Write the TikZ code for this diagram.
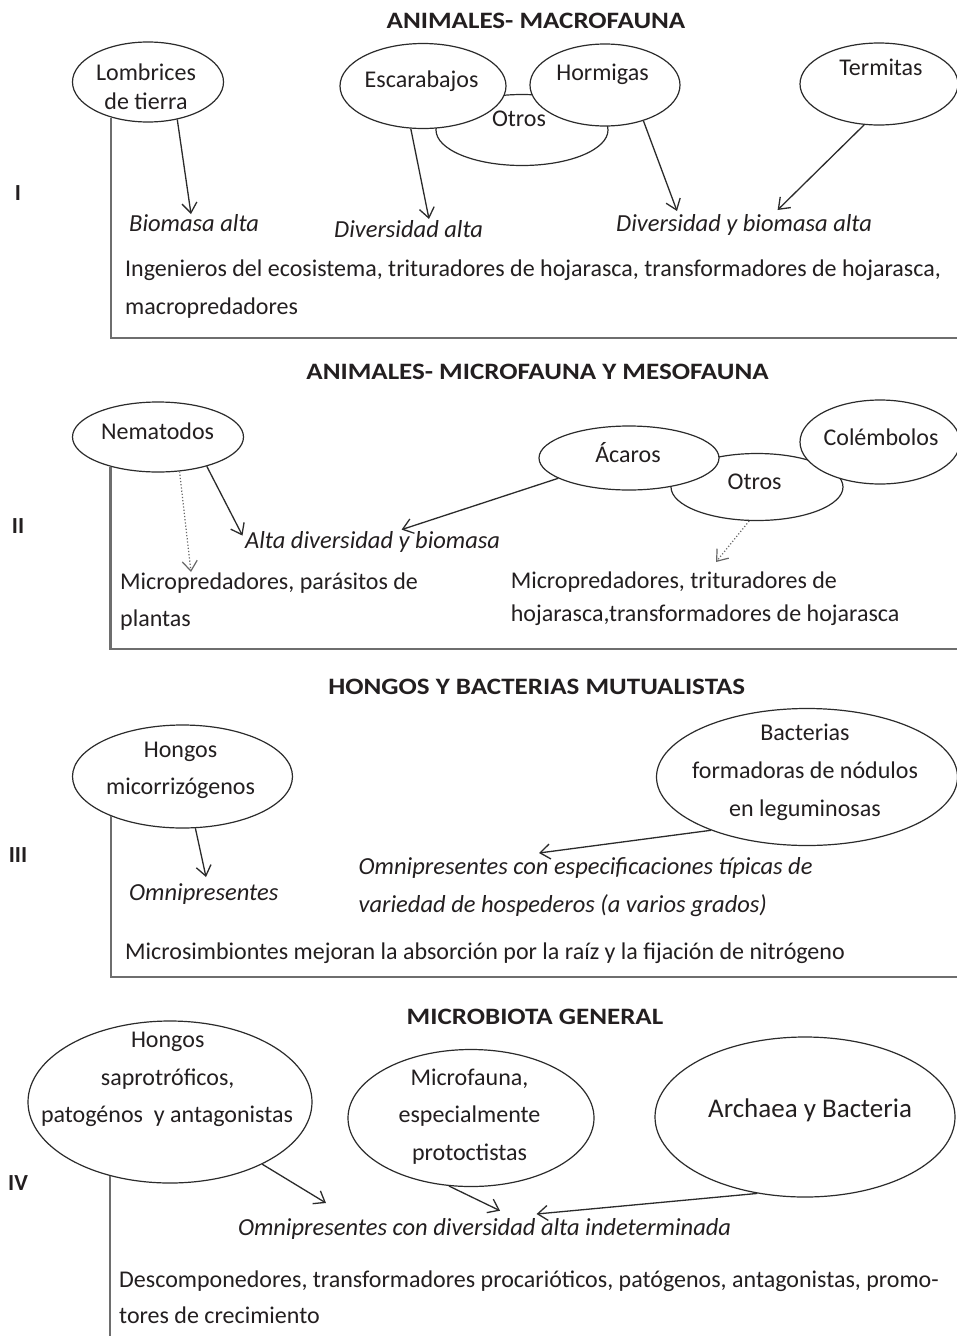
\documentclass[tikz,border=0pt]{standalone}
\usepackage{fontspec}
\setmainfont{Carlito}
\newfontfamily\ttlfont{Carlito}[FakeStretch=1.15]
\usetikzlibrary{shapes.geometric,arrows.meta,backgrounds}
\definecolor{textc}{HTML}{231F20}
\definecolor{linec}{HTML}{2B2B2B}
\definecolor{connc}{HTML}{4A4A4A}
\definecolor{brkc}{HTML}{6E6E6E}
\tikzset{
  ell/.style={draw=linec, line width=1.2pt, fill=white, ellipse, inner sep=0pt},
  txt/.style={font=\fontsize{24}{28}\selectfont, text=textc, inner sep=0pt, anchor=mid west, yshift=-3.5pt},
  ctxt/.style={txt, anchor=mid},
  itx/.style={txt, font=\fontsize{24.5}{28}\selectfont\itshape},
  ttl/.style={font=\ttlfont\fontsize{23.5}{27}\selectfont\bfseries, text=textc, inner sep=0pt, anchor=mid, yshift=-4pt},
  roman/.style={font=\fontsize{23}{25}\selectfont\bfseries, text=textc, inner sep=0pt, anchor=mid, yshift=-3pt},
  conn/.style={draw=connc, line width=2pt},
  brk/.style={draw=brkc, line width=2.5pt},
  arr/.style={draw=linec, line width=1.3pt, -{Straight Barb[length=10pt,width=15pt]}},
  darr/.style={draw=gray!80!black, line width=1.2pt, dotted, -{Straight Barb[length=10pt,width=15pt]}},
}
\begin{document}
\begin{tikzpicture}[x=1pt,y=-1pt]
\useasboundingbox[fill=white] (0,0) rectangle (956,1336);

% ---------------- Section I ----------------
\node[ttl] (t1) at (536,22) {ANIMALES- MACROFAUNA};
\node[roman] (r1) at (18,195) {I};
\node[ell, minimum width=172pt, minimum height=71pt] (otr1) at (522,130) {};
\node[ell, minimum width=151pt, minimum height=80pt] (lomb) at (148,82) {};
\node[ell, minimum width=166pt, minimum height=85pt] (esc) at (423,86) {};
\node[ell, minimum width=150pt, minimum height=82pt] (hor) at (605,85) {};
\node[ell, minimum width=158pt, minimum height=82pt] (ter) at (879,84) {};
\node[ctxt] (lombt1) at (146,75) {Lombrices};
\node[ctxt] (lombt2) at (146,103.7) {de tierra};
\node[ctxt] (esct) at (421.6,82) {Escarabajos};
\node[ctxt] (hort) at (602.5,75) {Hormigas};
\node[ctxt] (tert) at (881,70) {Termitas};
\node[ctxt] (otr1t) at (519,120.4) {Otros};
\node[itx] (bal) at (129,226) {Biomasa alta};
\node[itx] (dal) at (334,232) {Diversidad alta};
\node[itx] (dba) at (616,226) {Diversidad y biomasa alta};
\node[txt] (ing1) at (125,271) {Ingenieros del ecosistema, trituradores de hojarasca, transformadores de hojarasca,};
\node[txt] (ing2) at (125,309) {macropredadores};
\coordinate (y1) at (0,88.6);
\coordinate (a1) at (191,214);
\coordinate (a2) at (429,219);
\coordinate (a3) at (677,211);
\coordinate (a4) at (777.6,210);
\coordinate (b1) at (960,338);
\draw[arr] (lomb.-52) -- (a1);
\draw[arr] (esc.-106) -- (a2);
\draw[arr] (hor.-43) -- (a3);
\draw[arr] (ter.-110) -- (a4);

% ---------------- Section II ----------------
\node[ttl] (t2) at (537.5,373) {ANIMALES- MICROFAUNA Y MESOFAUNA};
\node[roman] (r2) at (18,528) {II};
\node[ell, minimum width=171pt, minimum height=70pt] (nem) at (158,437) {};
\node[ell, minimum width=172pt, minimum height=67pt] (otr2) at (757,487) {};
\node[ell, minimum width=180pt, minimum height=64pt] (aca) at (629,458) {};
\node[ell, minimum width=160pt, minimum height=84pt] (col) at (880,442) {};
\node[ctxt] (nemt) at (157.6,433.6) {Nematodos};
\node[ctxt] (acat) at (628,457) {Ácaros};
\node[ctxt] (colt) at (881,440) {Colémbolos};
\node[ctxt] (otr2t) at (754.6,483.8) {Otros};
\node[itx] (adb) at (245,543) {Alta diversidad y biomasa};
\node[txt] (mp1) at (120,583.4) {Micropredadores, parásitos de};
\node[txt] (mp2) at (120,621) {plantas};
\node[txt] (mt1) at (510.6,583) {Micropredadores, trituradores de};
\node[txt] (mt2) at (510.6,616) {hojarasca,transformadores de hojarasca};
\coordinate (y2) at (0,445.3);
\coordinate (d1) at (191,572);
\coordinate (a5) at (242.5,535.6);
\coordinate (a6) at (401.6,529.6);
\coordinate (d2) at (716,562);
\coordinate (b2) at (960,649);
\draw[darr] (nem.-58) -- (d1);
\draw[arr] (nem.-31) -- (a5);
\draw[arr] (aca.-164) -- (a6);
\draw[darr] (otr2.-103) -- (d2);

% ---------------- Section III ----------------
\node[ttl] (t3) at (536.7,688) {HONGOS Y BACTERIAS MUTUALISTAS};
\node[roman] (r3) at (18,857) {III};
\node[ell, minimum width=220pt, minimum height=103pt] (hmic) at (182.5,776.5) {};
\node[ell, minimum width=301pt, minimum height=137pt] (bact) at (807,777) {};
\node[ctxt] (hmt1) at (180.5,752) {Hongos};
\node[ctxt] (hmt2) at (180.5,788.7) {micorrizógenos};
\node[ctxt] (bat1) at (805,735) {Bacterias};
\node[ctxt] (bat2) at (805,773) {formadoras de nódulos};
\node[ctxt] (bat3) at (805,810.5) {en leguminosas};
\node[itx] (omn) at (129,894.7) {Omnipresentes};
\node[itx] (oce1) at (358.5,869) {Omnipresentes con especificaciones típicas de};
\node[itx] (oce2) at (358.5,906.8) {variedad de hospederos (a varios grados)};
\node[txt] (mic) at (125,954) {Microsimbiontes mejoran la absorción por la raíz y la fijación de nitrógeno};
\coordinate (y3) at (0,769.7);
\coordinate (a7) at (206,877);
\coordinate (a8) at (539,853);
\coordinate (b3) at (960,977);
\draw[arr] (hmic.-76) -- (a7);
\draw[arr] (bact.-151) -- (a8);

% ---------------- Section IV ----------------
\node[ttl] (t4) at (535,1018) {MICROBIOTA GENERAL};
\node[roman] (r4) at (18,1185) {IV};
\node[ell, minimum width=284pt, minimum height=162pt] (sap) at (170,1102) {};
\node[ell, minimum width=246pt, minimum height=137pt] (mfa) at (471,1118) {};
\node[ell, minimum width=300pt, minimum height=160pt] (arc) at (805,1117) {};
\node[ctxt] (sat1) at (167.7,1041.7) {Hongos};
\node[ctxt] (sat2) at (167.7,1080) {saprotróficos,};
\node[ctxt] (sat3) at (167,1116.7) {patogénos\ \ y antagonistas};
\node[ctxt] (mft1) at (469.5,1080) {Microfauna,};
\node[ctxt] (mft2) at (469.5,1117) {especialmente};
\node[ctxt] (mft3) at (469.5,1155) {protoctistas};
\node[ctxt, font=\fontsize{27}{30}\selectfont] (arct) at (810,1111.7) {Archaea y Bacteria};
\node[itx] (ocd) at (237.8,1230) {Omnipresentes con diversidad alta indeterminada};
\node[txt] (des1) at (119,1281.7) {Descomponedores, transformadores procarióticos, patógenos, antagonistas, promo-};
\node[txt] (des2) at (119,1318) {tores de crecimiento};
\coordinate (y4) at (0,1098.3);
\coordinate (a9) at (326,1203);
\coordinate (a10) at (500,1210.7);
\coordinate (a11) at (536.6,1214);
\coordinate (b4) at (0,1340);
\draw[arr] (sap.-34) -- (a9);
\draw[arr] (mfa.-108) -- (a10);
\draw[arr] (arc.-122) -- (a11);

% ---------------- connectors behind the ellipses ----------------
\begin{scope}[on background layer]
\draw[conn] (lomb.center |- y1) -- (ter.center |- y1);
\draw[conn] (nem.center |- y2) -- (col.center |- y2);
\draw[conn] (hmic.center |- y3) -- (bact.center |- y3);
\draw[conn] (sap.center |- y4) -- (arc.center |- y4);
\end{scope}
\draw[brk] (lomb.-136) |- (b1);
\draw[brk] (nem.-148) |- (b2);
\draw[brk] (hmic.-151) |- (b3);
\draw[brk] (sap.-129) -- (sap.-129 |- b4);
\end{tikzpicture}
\end{document}
